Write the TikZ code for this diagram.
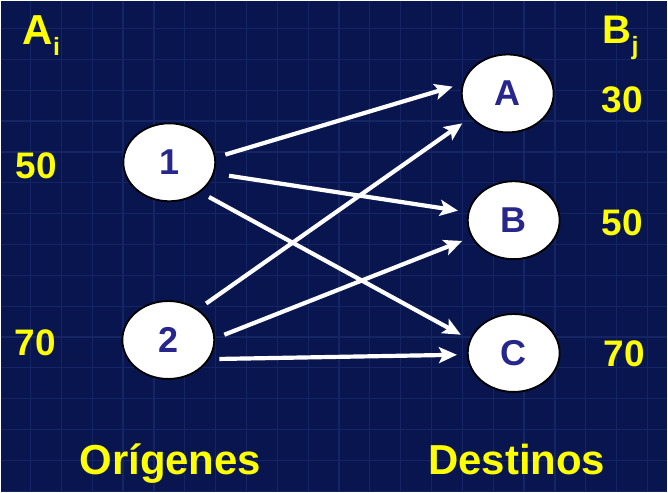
\documentclass[tikz,border=0pt]{standalone}
\usepackage{fontspec}
\setmainfont{Liberation Sans}
\usetikzlibrary{arrows.meta,shapes.geometric}
\definecolor{fondo}{RGB}{9,21,78}
\definecolor{rejilla}{RGB}{21,36,98}
\definecolor{amarillo}{RGB}{255,255,0}
\definecolor{tinta}{RGB}{38,38,140}
\newcommand{\rotulo}[1]{\fontsize{#1}{#1}\selectfont\bfseries}

\begin{document}
\begin{tikzpicture}[x=1pt,y=1pt,>={Stealth[length=18pt,width=16pt,inset=4pt]},
 every node/.style={inner sep=0pt},
 nodo/.style={ellipse,draw=black,line width=1.8pt,fill=white,
   minimum width=92pt,minimum height=78pt,text=tinta,font=\rotulo{36}},
 dato/.style={text=amarillo,font=\rotulo{37},anchor=base west},
 titulo/.style={text=amarillo,font=\rotulo{42},anchor=base},
 flecha/.style={->,white,line width=4.2pt,shorten <=10pt,shorten >=10pt}]
% fondo con rejilla
\fill[fondo] (0,0) rectangle (668,492);
\foreach \k in {0,...,20}
  \draw[rejilla,line width=1.2pt] ({30+30.9*\k},0) -- ({30+30.9*\k},492);
\foreach \k in {0,...,15}
  \draw[rejilla,line width=1.2pt] (0,{464-30.9*\k}) -- (668,{464-30.9*\k});
\useasboundingbox (0,0) rectangle (668,492);

\node[nodo] (o1) at (169,330) {1};
\node[nodo] (o2) at (168,152) {2};
\node[nodo] (dA) at (508,399) {A};
\node[nodo] (dB) at (514,272) {B};
\node[nodo] (dC) at (514,139) {C};

\node[dato,font=\rotulo{42}] (ai) at (22,448) {A\raisebox{-11pt}{\rotulo{25}i}};
\node[dato,font=\rotulo{40}] (bj) at (603,449) {B\raisebox{-11pt}{\rotulo{25}j}};
\node[dato] (a1) at (15,314) {50};
\node[dato] (a2) at (14,136) {70};
\node[dato] (b1) at (602,380) {30};
\node[dato] (b2) at (602,257) {50};
\node[dato] (b3) at (604,125) {70};
\node[titulo] (orig) at (170,17) {Orígenes};
\node[titulo] (dest) at (517,17) {Destinos};

\draw[flecha] (o1.6) -- (dA.168);
\draw[flecha,shorten <=15pt] (o1.-14) -- (dB.170);
\draw[flecha] (o1.-44) -- (dC.163);
\draw[flecha] (o2.46) -- (dA.213);
\draw[flecha] (o2.2) -- (dB.202);
\draw[flecha] (o2.-25) -- (dC.182);
\end{tikzpicture}
\end{document}
